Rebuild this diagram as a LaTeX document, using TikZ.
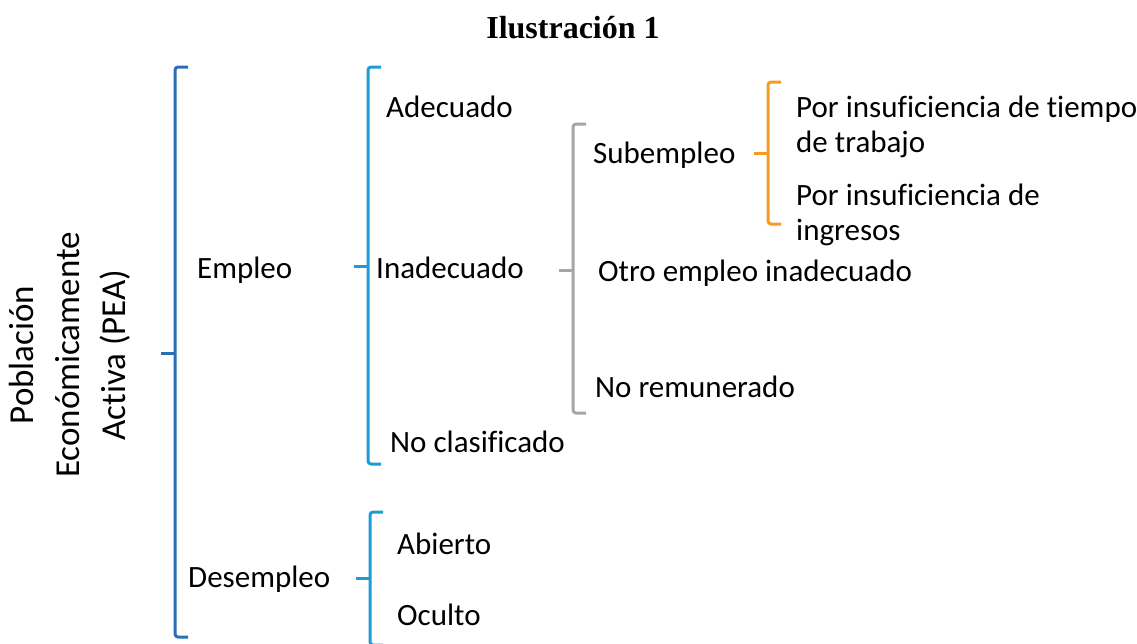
\documentclass[tikz,border=0pt]{standalone}
\usepackage{fontspec}
\setmainfont{Carlito}[Ligatures=NoCommon]
\newfontfamily\titlefont{Liberation Serif}
\usetikzlibrary{calc}
\definecolor{peablue}{HTML}{2A6EB5}
\definecolor{skyblue}{HTML}{1E9BD7}
\definecolor{bracegray}{HTML}{A6A6A6}
\definecolor{braceorange}{HTML}{F59A23}
\def\llave[#1](#2,#3,#4,#5){\draw[#1, line width=3pt, rounded corners=3pt] (#2+13, #3) -- (#2, #3) -- (#2, #5) -- (#2+13, #5); \draw[#1, line width=3pt] (#2, #4) -- (#2-14, #4);}

\begin{document}
\begin{tikzpicture}[x=1pt, y=-1pt,
	txt/.style={font=\fontsize{31}{35}\selectfont, anchor=base west, inner sep=0pt, align=left}]
		%%%%% START %%%%%
		
		\useasboundingbox (0, 0) rectangle (1137, 643);
		\clip (0, 0) rectangle (1137, 643);
		
		\node[font=\titlefont\bfseries\fontsize{32}{36}\selectfont, anchor=base, inner sep=0pt] (titulo) at (573, 38) {Ilustración 1};
		
		\node[rotate=90, align=center, inner sep=0pt, font=\fontsize{35}{46}\selectfont] (pea) at (70, 355) {Población\\Económicamente\\Activa (PEA)};
		
		\llave[color=peablue](175, 67, 353, 637)
		\node[txt] (empleo) at (197, 278) {Empleo};
		\node[txt] (desempleo) at (188, 587) {Desempleo};
		
		\llave[color=skyblue](368, 67, 266, 464)
		\node[txt] (adecuado) at (386, 117) {Adecuado};
		\node[txt] (inadecuado) at (376, 278) {Inadecuado};
		\node[txt] (noclasif) at (390, 452) {No clasificado};
		
		\llave[color=skyblue](370, 512, 578, 645)
		\node[txt] (abierto) at (397, 554) {Abierto};
		\node[txt] (oculto) at (397, 625) {Oculto};
		
		\llave[color=bracegray](573, 124, 270, 413)
		\node[txt] (subempleo) at (593, 163) {Subempleo};
		\node[txt] (otro) at (598, 281) {Otro empleo inadecuado};
		\node[txt] (noremun) at (595, 397) {No remunerado};
		
		\llave[color=braceorange](768, 82, 153, 224)
		\node[txt] (tiempo) at (796, 152) {Por insuficiencia de tiempo\\de trabajo};
		\node[txt] (ingresos) at (796, 240) {Por insuficiencia de\\ingresos};
		
		%%%%% END %%%%%
	\end{tikzpicture}
\end{document}
